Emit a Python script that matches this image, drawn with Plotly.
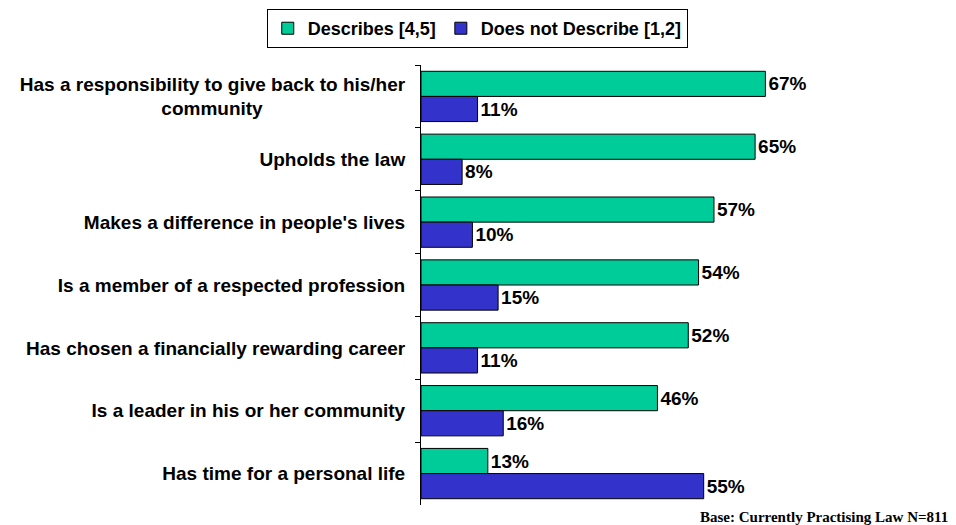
import plotly.graph_objects as go

categories = [
    "Has a responsibility to give back to his/her<br>community" + "\u00a0" * 27,
    "Upholds the law",
    "Makes a difference in people's lives",
    "Is a member of a respected profession",
    "Has chosen a financially rewarding career",
    "Is a leader in his or her community",
    "Has time for a personal life",
]
describes = [67, 65, 57, 54, 52, 46, 13]
does_not = [11, 8, 10, 15, 11, 16, 55]
series_names = ["Describes [4,5]", "Does not Describe [1,2]"]
colors = ["#00CC99", "#3333CC"]

font = "Arial, Liberation Sans, sans-serif"

fig = go.Figure()
for name, vals, col in zip(series_names, [describes, does_not], colors):
    fig.add_trace(go.Bar(
        y=categories, x=vals, orientation="h", name=f"<b>{name}</b>",
        marker=dict(color=col, line=dict(color="black", width=1)),
        text=[f"<b>{v}%</b>" for v in vals], textposition="outside",
        textfont=dict(family=font, size=19, color="black"),
        cliponaxis=False,
    ))

fig.update_layout(
    width=948, height=517,
    margin=dict(l=410, r=21, t=57, b=20),
    paper_bgcolor="white", plot_bgcolor="white",
    barmode="group", bargap=0.2, bargroupgap=0,
    showlegend=True,
    legend=dict(orientation="h", xref="container", yref="container",
                x=0.495, xanchor="center", y=0.998, yanchor="top",
                bordercolor="black", borderwidth=1,
                font=dict(family=font, size=18, color="black"),
                itemwidth=30, traceorder="normal", tracegroupgap=0),
    font=dict(family=font, color="black"),
)
fig.update_xaxes(range=[0, 100], visible=False)
fig.update_yaxes(
    autorange="reversed", showline=True, linecolor="black", linewidth=1,
    ticks="outside", tickson="boundaries", ticklen=5, tickcolor="black",
    tickfont=dict(family=font, size=19, color="black"),
    tickprefix="<b>", ticksuffix="</b>", ticklabelstandoff=11, showgrid=False,
)
fig.add_annotation(
    text="<b>Base: Currently Practising Law N=811</b>", xref="paper", yref="paper",
    x=1.029, y=-0.027, xanchor="right", yanchor="middle", showarrow=False,
    font=dict(family="Times New Roman, Liberation Serif, serif", size=15, color="black"),
)
fig.write_html("out.html")
